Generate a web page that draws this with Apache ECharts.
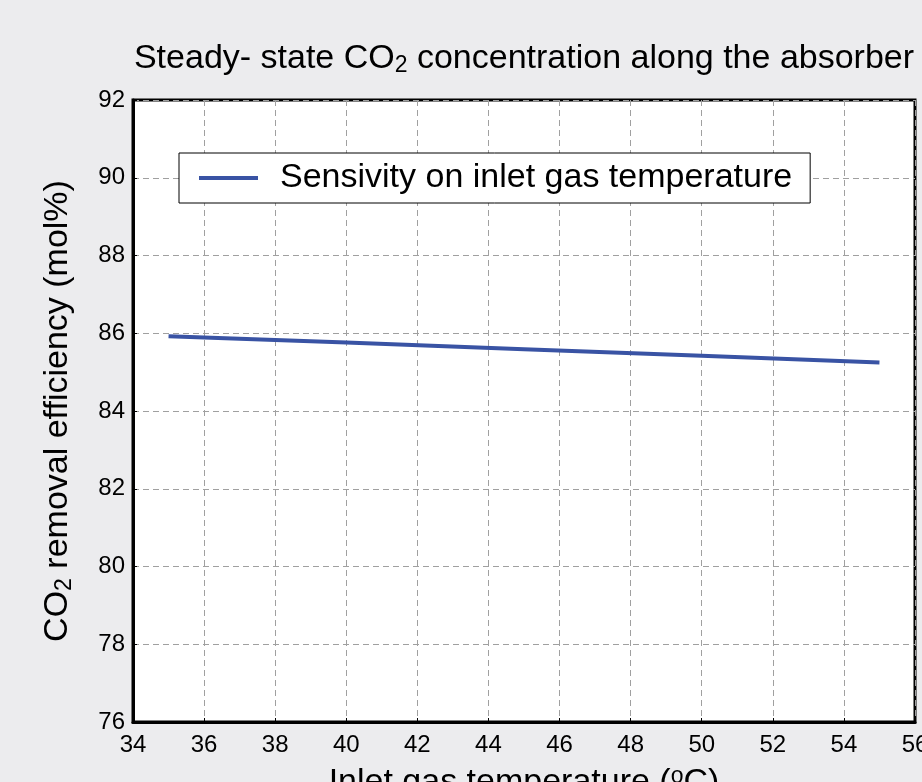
<!DOCTYPE html>
<html><head><meta charset="utf-8">
<script src="https://cdn.jsdelivr.net/npm/echarts@6/dist/echarts.min.js"></script>
<style>html,body{margin:0;padding:0;background:#ececee;}#c{width:922px;height:782px;}</style>
</head><body><div id="c"></div>
<script>
const temps = [35, 40, 45, 50, 55];
const efficiency = [85.92, 85.76, 85.59, 85.42, 85.25];
const seriesName = 'Sensivity on inlet gas temperature';
const xTicks = {min: 34, max: 56, interval: 2};
const yTicks = {min: 76, max: 92, interval: 2};

const chart = echarts.init(document.getElementById('c'));
const font = '"Liberation Sans", Arial, sans-serif';
chart.setOption({
  backgroundColor: '#ececee',
  animation: false,
  title: {
    text: '{a|Steady- state CO}{s|2}{a| concentration along the absorber}',
    left: 519, textAlign: 'center', top: 35,
    textStyle: {
      fontWeight: 'normal',
      rich: {
        a: {fontSize: 34, fontFamily: font, fontWeight: 'normal', color: '#000', lineHeight: 38},
        s: {fontSize: 23, fontFamily: font, fontWeight: 'normal', color: '#000', padding: [14, 0, 0, 0], lineHeight: 38}
      }
    }
  },
  grid: {left: 133, right: 7, top: 100, bottom: 60, outerBoundsMode: 'none', containLabel: false,
    show: true, backgroundColor: '#fff', borderColor: '#000', borderWidth: 3},
  legend: {
    left: 179, top: 153,
    data: [{name: seriesName, icon: 'rect'}],
    itemWidth: 59, itemHeight: 4, itemGap: 10,
    padding: [8, 18, 8, 20],
    backgroundColor: '#fff', borderColor: '#000', borderWidth: 1,
    textStyle: {fontSize: 34, fontFamily: font, color: '#000', padding: [0, 0, 0, 17]}
  },
  xAxis: {
    type: 'value', min: xTicks.min, max: xTicks.max, interval: xTicks.interval,
    name: '{a|Inlet gas temperature (}{o|o}{a|C)}', nameLocation: 'middle', nameGap: 42,
    nameTextStyle: {rich: {
      a: {fontSize: 34, fontFamily: font, color: '#000', lineHeight: 38},
      o: {fontSize: 23, fontFamily: font, color: '#000', padding: [0, 0, 12, 0], lineHeight: 38}
    }},
    axisLine: {show: true, lineStyle: {color: '#000', width: 3}},
    axisTick: {show: true, inside: true, length: 4, lineStyle: {color: '#000'}},
    axisLabel: {fontSize: 24, fontFamily: font, color: '#000', margin: 11},
    splitLine: {show: true, lineStyle: {color: '#a0a0a0', type: [6, 4], width: 1}}
  },
  yAxis: {
    type: 'value', min: yTicks.min, max: yTicks.max, interval: yTicks.interval,
    name: '{a|CO}{s|2}{a| removal efficiency (mol%)}', nameLocation: 'middle', nameGap: 56, nameRotate: 90,
    nameTextStyle: {rich: {
      a: {fontSize: 34, fontFamily: font, color: '#000', lineHeight: 38},
      s: {fontSize: 23, fontFamily: font, color: '#000', padding: [14, 0, 0, 0], lineHeight: 38}
    }},
    axisLine: {show: true, lineStyle: {color: '#000', width: 3}},
    axisTick: {show: true, inside: true, length: 4, lineStyle: {color: '#000'}},
    axisLabel: {fontSize: 24, fontFamily: font, color: '#000', margin: 8},
    splitLine: {show: true, lineStyle: {color: '#a0a0a0', type: [6, 4], width: 1}}
  },
  series: [{
    name: seriesName, type: 'line', showSymbol: false,
    data: temps.map((t, i) => [t, efficiency[i]]),
    lineStyle: {color: '#3953a4', width: 4}, itemStyle: {color: '#3953a4'}
  }]
});
</script></body></html>
